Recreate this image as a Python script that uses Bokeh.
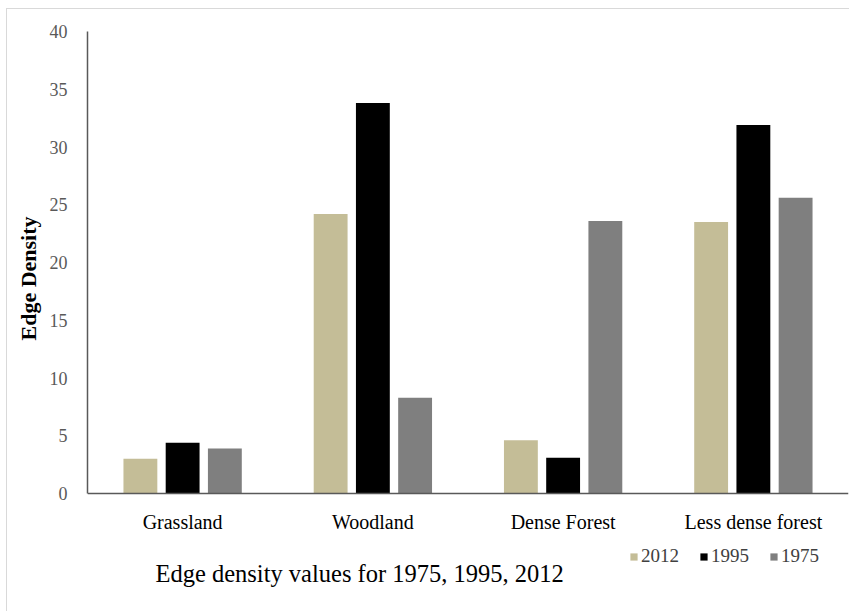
from bokeh.plotting import figure
from bokeh.models import (ColumnDataSource, FactorRange, Range1d, FixedTicker,
                          Legend, LegendItem, Label, Title)
from bokeh.transform import dodge
from bokeh.embed import file_html
from bokeh.resources import INLINE

# Edge density by land-cover class and year
categories = ["Grassland", "Woodland", "Dense Forest", "Less dense forest"]
ed_2012 = [3.0, 24.2, 4.6, 23.5]
ed_1995 = [4.4, 33.8, 3.1, 31.9]
ed_1975 = [3.9, 8.3, 23.6, 25.6]
years = ["2012", "1995", "1975"]
y_ticks = [0, 5, 10, 15, 20, 25, 30, 35, 40]
caption = "Edge density values for 1975, 1995, 2012"

colors = {"2012": "#c4bd97", "1995": "#000000", "1975": "#7f7f7f"}
FONT = "Liberation Serif"

source = ColumnDataSource(dict(cat=categories, y2012=ed_2012, y1995=ed_1995, y1975=ed_1975))

# page geometry: the figure sits just inside a thin grey frame
OX, OY = 7, 9
W, H = 850 - OX, 612 - OY
PLOT_L, PLOT_R, PLOT_T, BASE = 87, 848, 31, 493   # plot area on the page (px)
px_per_unit = (BASE - PLOT_T) / 40.0
y_start = -(612 - BASE) / px_per_unit            # room under the baseline for keys and caption

p = figure(width=W, height=H, x_range=FactorRange(*categories, range_padding=0),
           y_range=Range1d(y_start, 40), output_backend="svg", toolbar_location=None,
           min_border_left=PLOT_L - OX, min_border_right=850 - PLOT_R,
           min_border_top=PLOT_T - OY, min_border_bottom=0)
p.styles = {"position": "absolute", "left": "6px", "top": "8px",
            "border-left": "1px solid #d9d9d9", "border-top": "1px solid #d9d9d9"}

bar_w = 0.178
step = 0.222
renderers = []
for i, yr in enumerate(years):
    r = p.vbar(x=dodge("cat", (i - 1) * step, range=p.x_range), top="y" + yr,
               width=bar_w, source=source, fill_color=colors[yr], line_color=None)
    renderers.append(r)

p.outline_line_color = None
p.background_fill_color = "white"
p.border_fill_color = "white"
p.xgrid.grid_line_color = None
p.ygrid.grid_line_color = None

# y axis, drawn over 0..40 only
p.yaxis.bounds = (0, 40)
p.yaxis.ticker = FixedTicker(ticks=y_ticks)
p.yaxis.major_tick_line_color = None
p.yaxis.minor_tick_line_color = None
p.yaxis.axis_line_color = "#595959"
p.yaxis.axis_line_width = 1.5
p.yaxis.major_label_text_font = FONT
p.yaxis.major_label_text_font_size = "18px"
p.yaxis.major_label_text_color = "#595959"
p.yaxis.major_label_standoff = 14

# vertical axis title, set beside the 0..40 span
p.add_layout(Title(text="Edge Density", align="left", offset=612 - 340, standoff=12,
                   text_font=FONT, text_font_size="22px", text_font_style="bold",
                   text_color="#000000"), "left")

# category axis pinned at y = 0
p.xaxis.fixed_location = 0
p.xaxis.major_tick_line_color = None
p.xaxis.minor_tick_line_color = None
p.xaxis.axis_line_color = "#595959"
p.xaxis.axis_line_width = 1.5
p.xaxis.major_label_text_font = FONT
p.xaxis.major_label_text_font_size = "20px"
p.xaxis.major_label_text_color = "#000000"
p.xaxis.major_label_standoff = 11

# year keys, bottom right
legend = Legend(items=[LegendItem(label=yr, renderers=[r]) for yr, r in zip(years, renderers)],
                orientation="horizontal", location=(631 - PLOT_L - 2, 612 - 567),
                glyph_width=9, glyph_height=9, label_standoff=3, spacing=20,
                padding=2, margin=0, border_line_color=None, background_fill_alpha=0,
                label_text_font=FONT, label_text_font_size="19px", label_text_color="#404040")
p.add_layout(legend, "center")

# caption under the chart
p.add_layout(Label(x=155 - PLOT_L, y=612 - 573, x_units="screen", y_units="screen",
                   text=caption, text_font=FONT, text_font_size="24.5px",
                   text_color="#000000", text_align="left", text_baseline="alphabetic"))

open("out.html", "w").write(file_html(p, INLINE))
